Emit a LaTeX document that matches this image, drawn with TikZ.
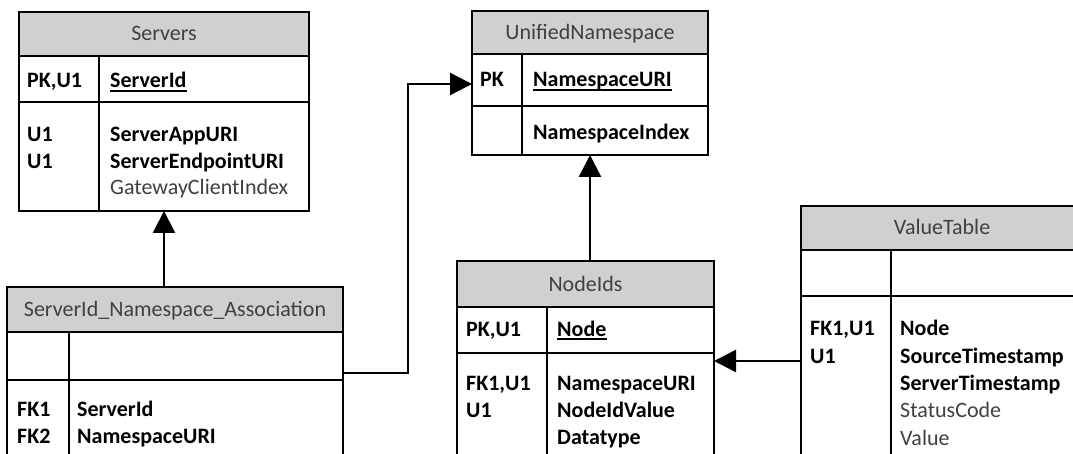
\documentclass[tikz,border=0pt]{standalone}
\usepackage{fontspec}
\setmainfont{Carlito}
\usetikzlibrary{arrows.meta}
\definecolor{hdrfill}{HTML}{D0D0D0}
\definecolor{txtgray}{HTML}{404040}

% one entity: header, key row, attribute body and the column divider
% #1 name, #2 x, #3 y, #4 width, #5 header h, #6 key row h, #7 body h, #8 divider offset, #9 title
\newcommand\dbtable[9]{%
  \node[hdr, minimum width=#4pt, minimum height=#5pt] (#1H) at (#2,#3) {};
  \node[frame, minimum width=#4pt, minimum height=#6pt] (#1K) at (#1H.south west) {};
  \node[frame, minimum width=#4pt, minimum height=#7pt] (#1B) at (#1K.south west) {};
  \draw[divider] ([xshift=#8pt]#1K.north west) -- ([xshift=#8pt]#1B.south west);
  \node[htext] (#1T) at (#1H.center) {#9};
}

\begin{document}
\begin{tikzpicture}[x=1pt,y=-1pt,
  frame/.style={draw=black, line width=1.6pt, inner sep=0pt, outer sep=0pt, anchor=north west},
  hdr/.style={frame, fill=hdrfill},
  divider/.style={draw=black, line width=1.6pt},
  htext/.style={text=txtgray, inner sep=0pt, text height=14pt, text depth=0pt,
    font=\fontsize{22}{26}\selectfont},
  keyt/.style={anchor=base west, inner sep=0pt, font=\fontsize{22}{26}\selectfont\bfseries},
  fldt/.style={keyt},
  plaint/.style={anchor=base west, inner sep=0pt, text=txtgray, font=\fontsize{22}{26}\selectfont},
  uline/.style={line width=1.4pt},
  conn/.style={line width=2.4pt, -{Triangle[length=22pt,width=22pt]}},
]
\fill[white] (0,0) rectangle (1073,454);
\useasboundingbox (0,0) rectangle (1073,454);
\clip (0,0) rectangle (1073,454);

% entities
\dbtable{srv}{19}{12}{290}{44}{46}{109}{80}{Servers}
\dbtable{uns}{472}{11}{236}{43}{52}{49}{50}{UnifiedNamespace}
\dbtable{asc}{7}{287}{336}{45}{48}{110}{62}{ServerId\_Namespace\_Association}
\dbtable{nid}{457}{261}{257}{46}{46}{140}{90}{NodeIds}
\dbtable{vt}{801}{206}{282}{44}{46}{170}{90}{ValueTable}

% Servers
\node[keyt] (srvK1) at (27,88) {PK,U1};
\node[fldt] (srvF1) at (110,88) {ServerId};
\draw[uline] ([yshift=-3pt]srvF1.base west) -- ([yshift=-3pt]srvF1.base east);
\node[keyt] (srvK2) at (27,142) {U1};
\node[keyt] (srvK3) at (27,169) {U1};
\node[fldt] (srvF2) at (110,142) {ServerAppURI};
\node[fldt] (srvF3) at (110,169) {ServerEndpointURI};
\node[plaint] (srvF4) at (110,195) {GatewayClientIndex};

% UnifiedNamespace
\node[keyt] (unsK1) at (480,87) {PK};
\node[fldt] (unsF1) at (533,87) {NamespaceURI};
\draw[uline] ([yshift=-3pt]unsF1.base west) -- ([yshift=-3pt]unsF1.base east);
\node[fldt] (unsF2) at (533,140) {NamespaceIndex};

% ServerId_Namespace_Association
\node[keyt] (ascK1) at (17,416) {FK1};
\node[keyt] (ascK2) at (17,443) {FK2};
\node[fldt] (ascF1) at (77,416) {ServerId};
\node[fldt] (ascF2) at (77,443) {NamespaceURI};

% NodeIds
\node[keyt] (nidK1) at (466,336) {PK,U1};
\node[fldt] (nidF1) at (557,336) {Node};
\draw[uline] ([yshift=-3pt]nidF1.base west) -- ([yshift=-3pt]nidF1.base east);
\node[keyt] (nidK2) at (466,390) {FK1,U1};
\node[keyt] (nidK3) at (466,417) {U1};
\node[fldt] (nidF2) at (557,390) {NamespaceURI};
\node[fldt] (nidF3) at (557,417) {NodeIdValue};
\node[fldt] (nidF4) at (557,444) {Datatype};

% ValueTable
\node[keyt] (vtK1) at (810,335) {FK1,U1};
\node[keyt] (vtK2) at (810,363) {U1};
\node[fldt] (vtF1) at (900,335) {Node};
\node[fldt] (vtF2) at (900,363) {SourceTimestamp};
\node[fldt] (vtF3) at (900,390) {ServerTimestamp};
\node[plaint] (vtF4) at (900,417) {StatusCode};
\node[plaint] (vtF5) at (900,445) {Value};

% relationships
\draw[conn] (ascH.north -| srvB.south) -- (srvB.south);
\coordinate (ascOut) at ([yshift=7pt]ascK.south east);
\draw[conn] (ascOut) -- ++(65,0) |- ([yshift=-4pt]unsK.west);
\draw[conn] (nidH.north -| unsB.south) -- (unsB.south);
\coordinate (vtIn) at ([yshift=-65pt]vtB.north west);
\draw[conn] (vtIn) -- (vtIn -| nidB.east);
\end{tikzpicture}
\end{document}
